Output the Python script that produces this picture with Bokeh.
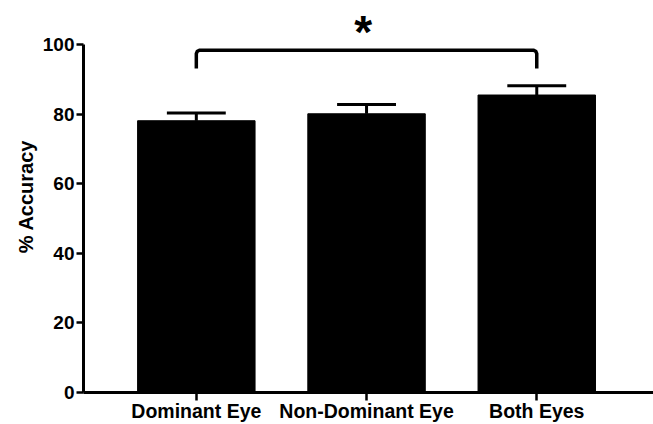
from bokeh.plotting import figure
from bokeh.models import Range1d, FixedTicker
from bokeh.embed import file_html
from bokeh.resources import INLINE
from bokeh.core.properties import value

categories = ["Dominant Eye", "Non-Dominant Eye", "Both Eyes"]
accuracy = [78.2, 80.2, 85.6]
sem = [2.2, 2.7, 2.7]
y_ticks = [0, 20, 40, 60, 80, 100]
sig_pair = [0, 2]
sig_level = 98.5
sig_label = "*"

FONT = "Liberation Sans"
xs = list(range(len(categories)))
err_top = [a + s for a, s in zip(accuracy, sem)]
bar_w = 0.69
cap_half = 0.173

p = figure(width=653, height=424,
           x_range=Range1d(-0.6628, 2.6858), y_range=Range1d(0, 112.8),
           output_backend="svg", toolbar_location=None,
           min_border_left=83, min_border_right=0, min_border_top=0, min_border_bottom=0)
p.outline_line_color = None
p.xgrid.visible = False
p.ygrid.visible = False
p.background_fill_color = "white"

p.vbar(x=xs, top=accuracy, width=bar_w, bottom=0, fill_color="black", line_color="black")
p.segment(x0=xs, y0=accuracy, x1=xs, y1=err_top, line_color="black", line_width=3)
p.segment(x0=[x - cap_half for x in xs], y0=err_top, x1=[x + cap_half for x in xs], y1=err_top,
          line_color="black", line_width=3)

# significance bracket
x0b, x1b = sig_pair
drop = 5.3
rx, ry = 0.02, 1.0
bx = [x0b, x0b, x0b + rx * 0.3, x0b + rx, x1b - rx, x1b - rx * 0.3, x1b, x1b]
by = [sig_level - drop, sig_level - ry, sig_level - ry * 0.3, sig_level, sig_level,
      sig_level - ry * 0.3, sig_level - ry, sig_level - drop]
p.line(bx, by, line_color="black", line_width=3.5, line_join="round")
p.text(x=[(x0b + x1b) / 2 - 0.02], y=[sig_level + 12.6], text=[sig_label],
       text_font=value(FONT), text_font_size="46px", text_font_style="bold",
       text_align="center", text_baseline="top", text_color="black")

# y axis
ya = p.yaxis[0]
ya.ticker = FixedTicker(ticks=y_ticks)
ya.bounds = (0, 100)
ya.axis_line_width = 3
ya.axis_line_color = "black"
ya.major_tick_line_width = 2.5
ya.major_tick_line_color = "black"
ya.major_tick_out = 7
ya.major_tick_in = 0
ya.minor_tick_line_color = None
ya.major_label_standoff = 2
ya.major_label_text_font = FONT
ya.major_label_text_font_size = "19px"
ya.major_label_text_font_style = "bold"
ya.major_label_text_color = "black"
ya.axis_label = "% Accuracy"
ya.axis_label_text_font = FONT
ya.axis_label_text_font_size = "20px"
ya.axis_label_text_font_style = "bold"
ya.axis_label_text_color = "black"
ya.axis_label_standoff = 3

# x axis
xa = p.xaxis[0]
xa.ticker = FixedTicker(ticks=xs)
xa.major_label_overrides = {i: c for i, c in zip(xs, categories)}
xa.axis_line_width = 3
xa.axis_line_color = "black"
xa.major_tick_line_width = 2.5
xa.major_tick_line_color = "black"
xa.major_tick_out = 8
xa.major_tick_in = 0
xa.minor_tick_line_color = None
xa.major_label_standoff = -1
xa.major_label_text_font = FONT
xa.major_label_text_font_size = "19.5px"
xa.major_label_text_font_style = "bold"
xa.major_label_text_color = "black"

open("out.html", "w").write(file_html(p, INLINE))
